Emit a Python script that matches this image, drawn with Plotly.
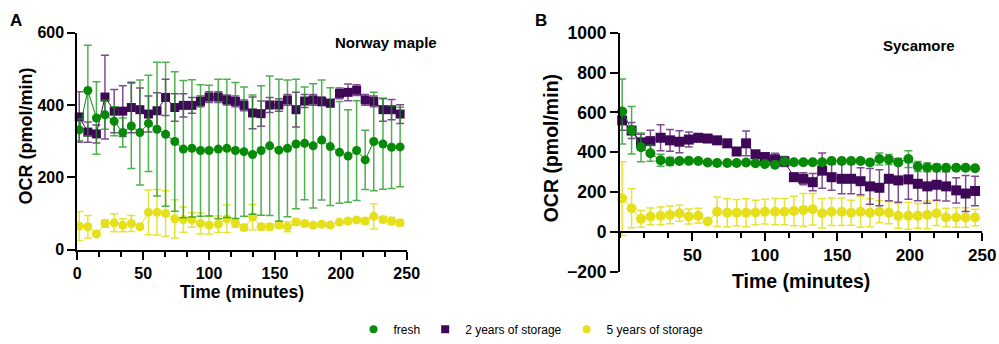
import plotly.graph_objects as go

# ---------------- data ----------------
time_min = [1.5, 8, 14.5, 21, 28, 34.5, 41, 47.5, 54, 60.5, 67, 74, 80.5, 87, 93.5, 100,
            107, 113.5, 120, 126.5, 133, 139.5, 146, 153, 159.5, 166, 172.5, 179, 185.5,
            192, 199, 205.5, 212, 218.5, 225, 232, 238.5, 245]

series_names = ["fresh", "2 years of storage", "5 years of storage"]

# Panel A - Norway maple
a_fresh = [331, 440, 364, 373, 355, 324, 342, 324, 349, 333, 319, 299, 278, 280, 274, 274, 278,
           280, 274, 271, 263, 274, 287, 275, 280, 292, 294, 287, 303, 285, 269, 259, 274, 248,
           299, 292, 283, 284]
a_fresh_sd = [30, 125, 100, 40, 40, 40, 118, 145, 133, 185, 199, 193, 190, 190, 182, 181, 193,
              191, 188, 179, 165, 179, 193, 196, 189, 179, 156, 172, 166, 163, 141, 128, 138, 82,
              136, 125, 114, 110]
a_2y = [367, 325, 320, 422, 383, 383, 393, 387, 375, 384, 421, 393, 399, 399, 410, 422, 422, 414,
        410, 399, 378, 376, 400, 400, 414, 387, 411, 414, 410, 405, 432, 435, 441, 414, 410, 387,
        387, 375]
a_2y_sd = [70, 28, 25, 116, 60, 70, 70, 60, 50, 50, 50, 38, 32, 22, 15, 15, 15, 14, 15, 15, 44,
           35, 21, 17, 15, 48, 18, 15, 12, 10, 15, 23, 15, 15, 15, 32, 28, 26]
a_5y = [65, 63, 43, 72, 74, 67, 72, 63, 103, 103, 100, 85, 83, 82, 72, 68, 70, 85, 74, 61, 90, 63,
        63, 68, 63, 76, 72, 67, 70, 68, 76, 79, 82, 79, 92, 83, 79, 74]
a_5y_sd = [40, 31, 5, 10, 25, 18, 22, 5, 62, 63, 63, 53, 35, 20, 29, 25, 23, 38, 12, 8, 35, 8, 8,
           8, 14, 8, 8, 5, 5, 5, 5, 5, 5, 8, 35, 8, 10, 8]

# Panel B - Sycamore
b_fresh = [605, 511, 425, 395, 360, 354, 356, 357, 356, 349, 346, 346, 346, 349, 345, 341, 338,
           354, 350, 350, 350, 350, 356, 356, 356, 356, 349, 366, 364, 349, 366, 329, 324, 322,
           322, 322, 322, 320]
b_fresh_sd = [163, 119, 72, 40, 30, 20, 10, 8, 8, 8, 8, 8, 8, 8, 10, 10, 10, 12, 8, 10, 8, 10, 8,
              8, 8, 8, 10, 30, 25, 10, 42, 25, 22, 18, 8, 8, 8, 8]
b_2y = [560, 509, 450, 456, 473, 460, 453, 464, 473, 469, 460, 445, 404, 445, 390, 376, 365, 354,
        275, 267, 250, 308, 275, 267, 267, 255, 229, 222, 267, 259, 264, 242, 229, 237, 229, 209,
        193, 206]
b_2y_sd = [50, 40, 40, 55, 65, 55, 55, 38, 20, 15, 15, 15, 15, 62, 17, 20, 30, 25, 20, 30, 43, 88,
           65, 75, 75, 68, 90, 90, 110, 110, 100, 85, 85, 77, 74, 63, 90, 74]
b_5y = [168, 119, 66, 78, 81, 86, 94, 78, 82, 53, 102, 97, 97, 97, 98, 102, 102, 102, 106, 111,
        114, 94, 102, 102, 97, 102, 97, 102, 97, 81, 81, 81, 86, 94, 73, 73, 73, 73]
b_5y_sd = [185, 98, 42, 42, 45, 45, 40, 38, 37, 5, 74, 70, 66, 70, 62, 62, 66, 66, 74, 82, 79, 74,
           69, 69, 63, 78, 70, 55, 55, 62, 67, 62, 70, 61, 46, 49, 49, 41]

x_ticks_a = [0, 50, 100, 150, 200, 250]
x_ticks_b = [50, 100, 150, 200, 250]
y_ticks_a = [0, 200, 400, 600]
y_ticks_b = [-200, 0, 200, 400, 600, 800, 1000]

# ---------------- style ----------------
W, H = 999, 344
GREEN, GREEN_E = "#078a07", "rgba(20,150,20,0.75)"
PURPLE, PURPLE_E = "#3e0757", "rgba(95,30,120,0.8)"
YELLOW, YELLOW_E = "#e6e01c", "rgba(230,224,28,0.9)"
FONT = "Liberation Sans, Arial, sans-serif"


def fx(p):
    return p / W


def fy(p):
    return 1 - p / H


fig = go.Figure()


def add(x, y, err, color, ecolor, symbol, size, xa, ya):
    fig.add_trace(go.Scatter(
        x=x, y=y, mode="lines+markers", xaxis=xa, yaxis=ya,
        line=dict(color=color, width=1),
        marker=dict(color=color, size=size, symbol=symbol, line=dict(width=0)),
        error_y=dict(type="data", array=err, visible=True, color=ecolor, thickness=1.5, width=4),
        showlegend=False, cliponaxis=False, hoverinfo="skip"))


# panel A (yellow, purple, green on top)
add(time_min, a_5y, a_5y_sd, YELLOW, YELLOW_E, "circle", 9, "x", "y")
add(time_min, a_2y, a_2y_sd, PURPLE, PURPLE_E, "square", 9, "x", "y")
add(time_min, a_fresh, a_fresh_sd, GREEN, GREEN_E, "circle", 9, "x", "y")
# panel B
add(time_min, b_5y, b_5y_sd, YELLOW, YELLOW_E, "circle", 10, "x2", "y2")
add(time_min, b_2y, b_2y_sd, PURPLE, PURPLE_E, "square", 10, "x2", "y2")
add(time_min, b_fresh, b_fresh_sd, GREEN, GREEN_E, "circle", 10, "x2", "y2")

# legend entries
for name, color, symbol in zip(series_names, [GREEN, PURPLE, YELLOW], ["circle", "square", "circle"]):
    fig.add_trace(go.Scatter(x=[None], y=[None], mode="markers", name=name, xaxis="x", yaxis="y",
                             marker=dict(color=color, size=8, symbol=symbol)))


def axis_style(size):
    return dict(showline=True, linecolor="black", linewidth=2, ticks="outside", ticklen=8,
                tickwidth=2, tickcolor="black", showgrid=False, zeroline=False,
                tickfont=dict(family=FONT, size=size, color="black", weight="bold"),
                automargin=False, fixedrange=True)


minor = dict(ticks="outside", ticklen=5, tickwidth=2, tickcolor="black", tick0=0, dtick=50 / 3,
             showgrid=False)

fig.update_layout(
    width=W, height=H, margin=dict(l=0, r=0, t=0, b=0),
    paper_bgcolor="white", plot_bgcolor="white",
    xaxis=dict(domain=[fx(77.3), fx(406.7)], range=[0, 250], anchor="y",
               tickmode="array", tickvals=x_ticks_a, minor=minor, **axis_style(16)),
    yaxis=dict(domain=[fy(254), fy(33.3)], range=[0, 600], anchor="x",
               tickmode="array", tickvals=y_ticks_a, **axis_style(16)),
    xaxis2=dict(domain=[fx(620), fx(982.3)], range=[0, 250], anchor="free", position=fy(235.7),
                tickmode="array", tickvals=x_ticks_b, minor=minor, **axis_style(17)),
    yaxis2=dict(domain=[fy(276.7), fy(33.3)], range=[-200, 1000], anchor="x2",
                tickmode="array", tickvals=y_ticks_b, **axis_style(17.5)),
    showlegend=True,
    legend=dict(orientation="h", x=fx(531), xanchor="center", y=fy(335), yanchor="middle",
                font=dict(family=FONT, size=12, color="black"), bgcolor="rgba(0,0,0,0)",
                itemclick=False, itemdoubleclick=False),
)


def ann(text, x, y, size, angle=0, bold=True):
    fig.add_annotation(text=text, x=fx(x), y=fy(y), xref="paper", yref="paper",
                       showarrow=False, textangle=angle, xanchor="center", yanchor="middle",
                       font=dict(family=FONT, size=size, color="black",
                                 weight="bold" if bold else "normal"))


ann("A", 16, 21, 17)
ann("B", 541, 21, 17)
ann("Norway maple", 386, 43, 15)
ann("Sycamore", 919, 46, 15)
ann("OCR (pmol/min)", 26, 139, 18, angle=-90)
ann("OCR (pmol/min)", 551, 151, 19.5, angle=-90)
ann("Time (minutes)", 242, 297, 17.5)
ann("Time (minutes)", 801, 286, 19.5)

fig.write_html("out.html", config={"displayModeBar": False},
               post_script="document.body.style.margin='0';")
